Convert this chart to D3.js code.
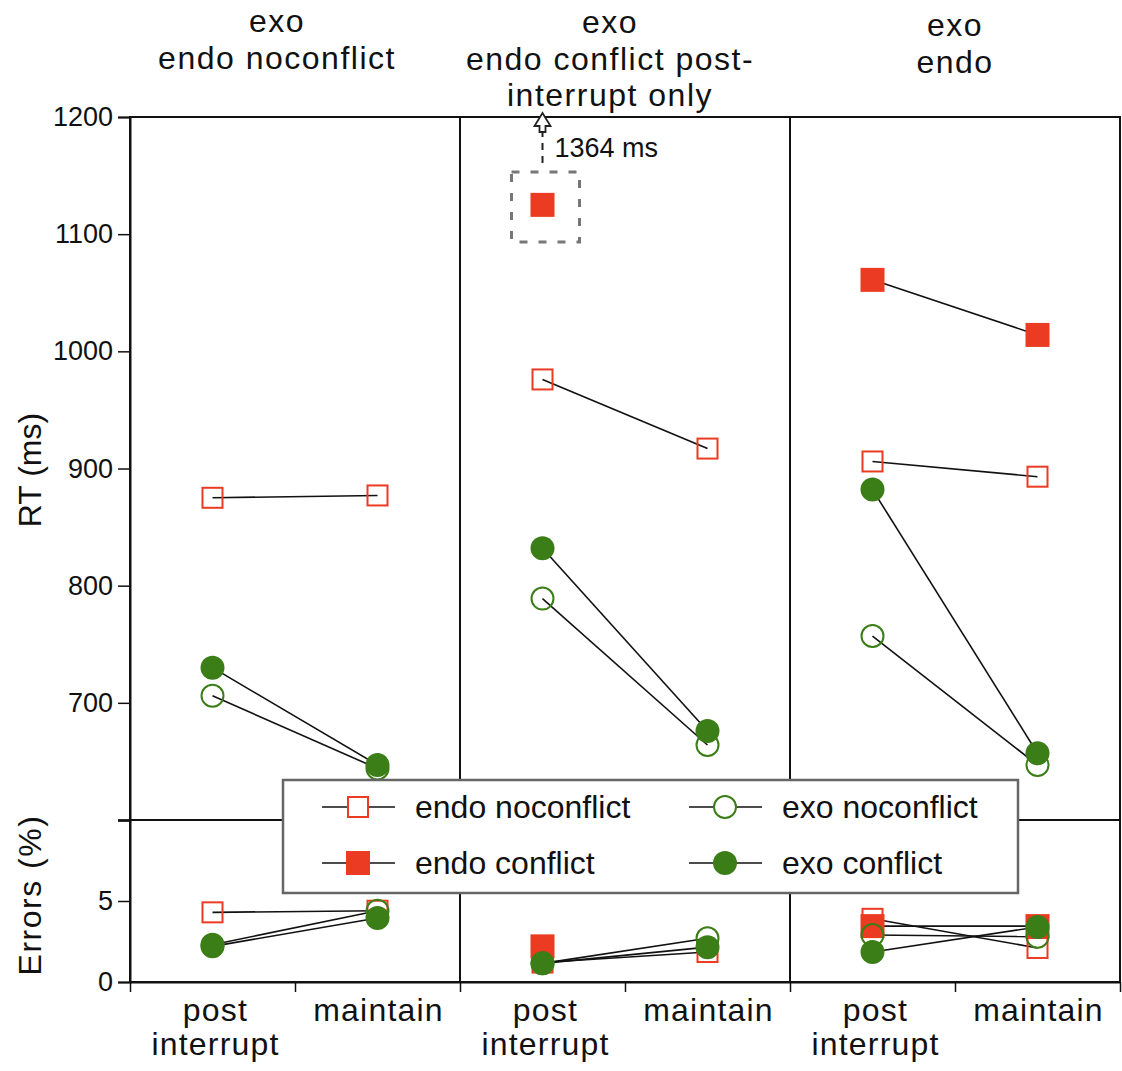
<!DOCTYPE html>
<html>
<head>
<meta charset="utf-8">
<script src="https://cdn.jsdelivr.net/npm/d3@7"></script>
<style>
  body { margin: 0; background: #fff; }
  text { font-family: "Liberation Sans", Arial, Helvetica, sans-serif; fill: #111; }
</style>
</head>
<body>
<div id="chartTarget"></div>
<script>
// panels + conditions
const panelTitles = [
  ['exo', 'endo noconflict'],
  ['exo', 'endo conflict post-', 'interrupt only'],
  ['exo', 'endo']
];
const conditions = ['post interrupt', 'maintain'];
const conditionLabels = [['post', 'interrupt'], ['maintain']];

// RT (ms), one [post, maintain] pair per panel
const endoNoconflictRT = [[875, 877], [976, 917], [906, 893]];
const endoConflictRT   = [[null, null], [1364, null], [1061, 1014]];
const exoNoconflictRT  = [[706, 644], [789, 664], [757, 647]];
const exoConflictRT    = [[730, 647], [832, 676], [882, 657]];

// Errors (%)
const endoNoconflictErr = [[4.3, 4.4], [1.2, 1.85], [3.9, 2.1]];
const endoConflictErr   = [[null, null], [2.2, null], [3.45, 3.45]];
const exoNoconflictErr  = [[2.3, 4.4], [1.15, 2.7], [2.9, 2.8]];
const exoConflictErr    = [[2.2, 3.95], [1.15, 2.15], [1.85, 3.4]];

const rtTicks = [600, 700, 800, 900, 1000, 1100, 1200];
const errTicks = [0, 5, 10];
const rtCap = 1125; // where off-scale RT values get drawn

const red = '#eb3b22';
const green = '#3b7d17';

const series = [
  {name: 'endo conflict',   shape: 'square', filled: true,  color: red,   rt: endoConflictRT,   err: endoConflictErr},
  {name: 'endo noconflict', shape: 'square', filled: false, color: red,   rt: endoNoconflictRT, err: endoNoconflictErr},
  {name: 'exo noconflict',  shape: 'circle', filled: false, color: green, rt: exoNoconflictRT,  err: exoNoconflictErr},
  {name: 'exo conflict',    shape: 'circle', filled: true,  color: green, rt: exoConflictRT,    err: exoConflictErr}
];
const legendOrder = ['endo noconflict', 'exo noconflict', 'endo conflict', 'exo conflict'];

let width = 1122;
let height = 1071;
let plotLeft = 130, plotRight = 1120, plotTop = 117, plotMid = 820, plotBottom = 982;

let svg = d3.select('#chartTarget').append('svg')
  .attr('width', width)
  .attr('height', height);

let xPanel = d3.scaleBand()
  .domain(d3.range(panelTitles.length))
  .range([plotLeft, plotRight])
  .padding(0);

let xCond = d3.scalePoint()
  .domain(conditions)
  .range([0, xPanel.bandwidth()])
  .padding(0.5);

let xPos = (p, c) => xPanel(p) + xCond(conditions[c]);

let yRT = d3.scaleLinear().domain([600, 1200]).range([plotMid, plotTop]);
let yErr = d3.scaleLinear().domain([0, 10]).range([plotBottom, plotMid]);

// axes
let yAxisRT = d3.axisLeft(yRT)
  .tickValues(rtTicks)
  .tickSize(12)
  .tickPadding(5)
  .tickFormat(d => d === 600 ? '' : d);

let yAxisErr = d3.axisLeft(yErr)
  .tickValues(errTicks)
  .tickSize(12)
  .tickPadding(5)
  .tickFormat(d => d === 10 ? '' : d);

let xTickScale = d3.scaleLinear().domain([0, 6]).range([plotLeft, plotRight]);
let xAxis = d3.axisBottom(xTickScale)
  .tickValues(d3.range(7))
  .tickSize(10)
  .tickSizeOuter(0)
  .tickFormat('');

svg.append('g')
  .attr('transform', `translate(${plotLeft},0)`)
  .call(yAxisRT);
svg.append('g')
  .attr('transform', `translate(${plotLeft},0)`)
  .call(yAxisErr);
svg.append('g')
  .attr('transform', `translate(0,${plotBottom})`)
  .call(xAxis);

svg.selectAll('.tick text').style('font-size', '27px').style('fill', '#111');
svg.selectAll('.tick line').style('stroke', '#111').style('stroke-width', 1.5);
svg.selectAll('.domain').style('stroke', '#111').style('stroke-width', 2);

// frame and panel dividers
svg.append('rect')
  .attr('x', plotLeft).attr('y', plotTop)
  .attr('width', plotRight - plotLeft).attr('height', plotBottom - plotTop)
  .attr('fill', 'none').attr('stroke', '#111').attr('stroke-width', 2);

svg.append('line')
  .attr('x1', plotLeft).attr('x2', plotRight)
  .attr('y1', plotMid).attr('y2', plotMid)
  .attr('stroke', '#111').attr('stroke-width', 2);

svg.selectAll('.divider')
  .data(d3.range(1, panelTitles.length))
  .enter().append('line')
    .attr('class', 'divider')
    .attr('x1', d => xPanel(d)).attr('x2', d => xPanel(d))
    .attr('y1', plotTop).attr('y2', plotBottom)
    .attr('stroke', '#111').attr('stroke-width', 2);

// titles (the first two sit a bit left of their panel centre)
let titleShift = [-18, -15, 0];
let titleTop = [32, 33, 36];
panelTitles.forEach((lines, p) => {
  let t = svg.append('text')
    .attr('text-anchor', 'middle')
    .style('font-size', '32px')
    .style('letter-spacing', '1.5px');
  lines.forEach((l, i) => {
    t.append('tspan')
      .attr('x', xPanel(p) + xPanel.bandwidth() / 2 + titleShift[p])
      .attr('y', titleTop[p] + i * 36.5)
      .text(l);
  });
});

// x category labels
panelTitles.forEach((_, p) => {
  conditions.forEach((c, ci) => {
    let t = svg.append('text')
      .attr('text-anchor', 'middle')
      .style('font-size', '32px')
      .style('letter-spacing', '1.2px');
    conditionLabels[ci].forEach((l, i) => {
      t.append('tspan')
        .attr('x', xPos(p, ci) + (ci === 0 ? 3 : 1))
        .attr('y', 1021 + i * 34)
        .text(l);
    });
  });
});

// axis titles
svg.append('text')
  .attr('transform', 'rotate(-90)')
  .attr('x', -470).attr('y', 41)
  .attr('text-anchor', 'middle')
  .style('font-size', '32px')
  .text('RT (ms)');

svg.append('text')
  .attr('transform', 'rotate(-90)')
  .attr('x', -895).attr('y', 41)
  .attr('text-anchor', 'middle')
  .style('font-size', '32px')
  .style('letter-spacing', '1.5px')
  .text('Errors (%)');

// data
function rtShown(v) { return v > 1200 ? rtCap : v; }

function drawMarker(g, s, x, y) {
  if (s.shape === 'square') {
    let size = s.filled ? 24 : 20;
    g.append('rect')
      .attr('x', x - size / 2).attr('y', y - size / 2)
      .attr('width', size).attr('height', size)
      .attr('fill', s.filled ? s.color : 'none')
      .attr('stroke', s.filled ? 'none' : s.color)
      .attr('stroke-width', 2);
  } else {
    g.append('circle')
      .attr('cx', x).attr('cy', y)
      .attr('r', s.filled ? 12 : 11)
      .attr('fill', s.filled ? s.color : 'none')
      .attr('stroke', s.filled ? 'none' : s.color)
      .attr('stroke-width', 2);
  }
}

let lineLayer = svg.append('g');
let markLayer = svg.append('g');

let panels = [
  {key: 'rt', y: yRT, fix: rtShown},
  {key: 'err', y: yErr, fix: v => v}
];

panels.forEach(pn => {
  series.forEach(s => {
    s[pn.key].forEach((pair, p) => {
      let pts = pair.map((v, c) => v == null ? null : [xPos(p, c), pn.y(pn.fix(v))]);
      if (pts[0] && pts[1]) {
        lineLayer.append('path')
          .attr('d', d3.line()(pts))
          .attr('fill', 'none')
          .attr('stroke', '#111')
          .attr('stroke-width', 1.6);
      }
    });
  });
  series.forEach(s => {
    s[pn.key].forEach((pair, p) => {
      pair.forEach((v, c) => {
        if (v == null) return;
        drawMarker(markLayer, s, xPos(p, c), pn.y(pn.fix(v)));
      });
    });
  });
});

// off-scale annotation
series.forEach(s => {
  s.rt.forEach((pair, p) => {
    pair.forEach((v, c) => {
      if (v == null || v <= 1200) return;
      let cx = xPos(p, c), cy = yRT(rtCap);
      svg.append('rect')
        .attr('x', cx - 31).attr('y', cy - 33)
        .attr('width', 68).attr('height', 70)
        .attr('fill', 'none')
        .attr('stroke', '#777')
        .attr('stroke-width', 3)
        .attr('stroke-dasharray', '8,11');
      svg.append('line')
        .attr('x1', cx).attr('x2', cx)
        .attr('y1', cy - 42).attr('y2', plotTop + 15)
        .attr('stroke', '#222')
        .attr('stroke-width', 2)
        .attr('stroke-dasharray', '7,6');
      let ay = plotTop - 4;
      svg.append('path')
        .attr('d', `M${cx},${ay} L${cx + 8},${ay + 13} L${cx + 3},${ay + 13} L${cx + 3},${ay + 19} L${cx - 3},${ay + 19} L${cx - 3},${ay + 13} L${cx - 8},${ay + 13} Z`)
        .attr('fill', '#fff')
        .attr('stroke', '#222')
        .attr('stroke-width', 1.8);
      svg.append('text')
        .attr('x', cx + 12).attr('y', cy - 48)
        .style('font-size', '27px')
        .text(`${v} ms`);
    });
  });
});

// legend
let legend = svg.append('g');
legend.append('rect')
  .attr('x', 283).attr('y', 780)
  .attr('width', 735).attr('height', 113)
  .attr('fill', '#fff')
  .attr('stroke', '#666')
  .attr('stroke-width', 2.5);

legendOrder.forEach((name, i) => {
  let s = series.find(d => d.name === name);
  let mx = i % 2 === 0 ? 358 : 725;
  let my = i < 2 ? 807 : 863;
  legend.append('line')
    .attr('x1', mx - 36).attr('x2', mx + 37)
    .attr('y1', my).attr('y2', my)
    .attr('stroke', '#111').attr('stroke-width', 1.6);
  if (!s.filled) {
    // blank the line behind hollow markers
    if (s.shape === 'square') {
      legend.append('rect').attr('x', mx - 10).attr('y', my - 10).attr('width', 20).attr('height', 20).attr('fill', '#fff');
    } else {
      legend.append('circle').attr('cx', mx).attr('cy', my).attr('r', 11).attr('fill', '#fff');
    }
  }
  drawMarker(legend, s, mx, my);
  legend.append('text')
    .attr('x', mx + 57).attr('y', my + 11)
    .style('font-size', '32px')
    .text(name);
});
</script>
</body>
</html>
